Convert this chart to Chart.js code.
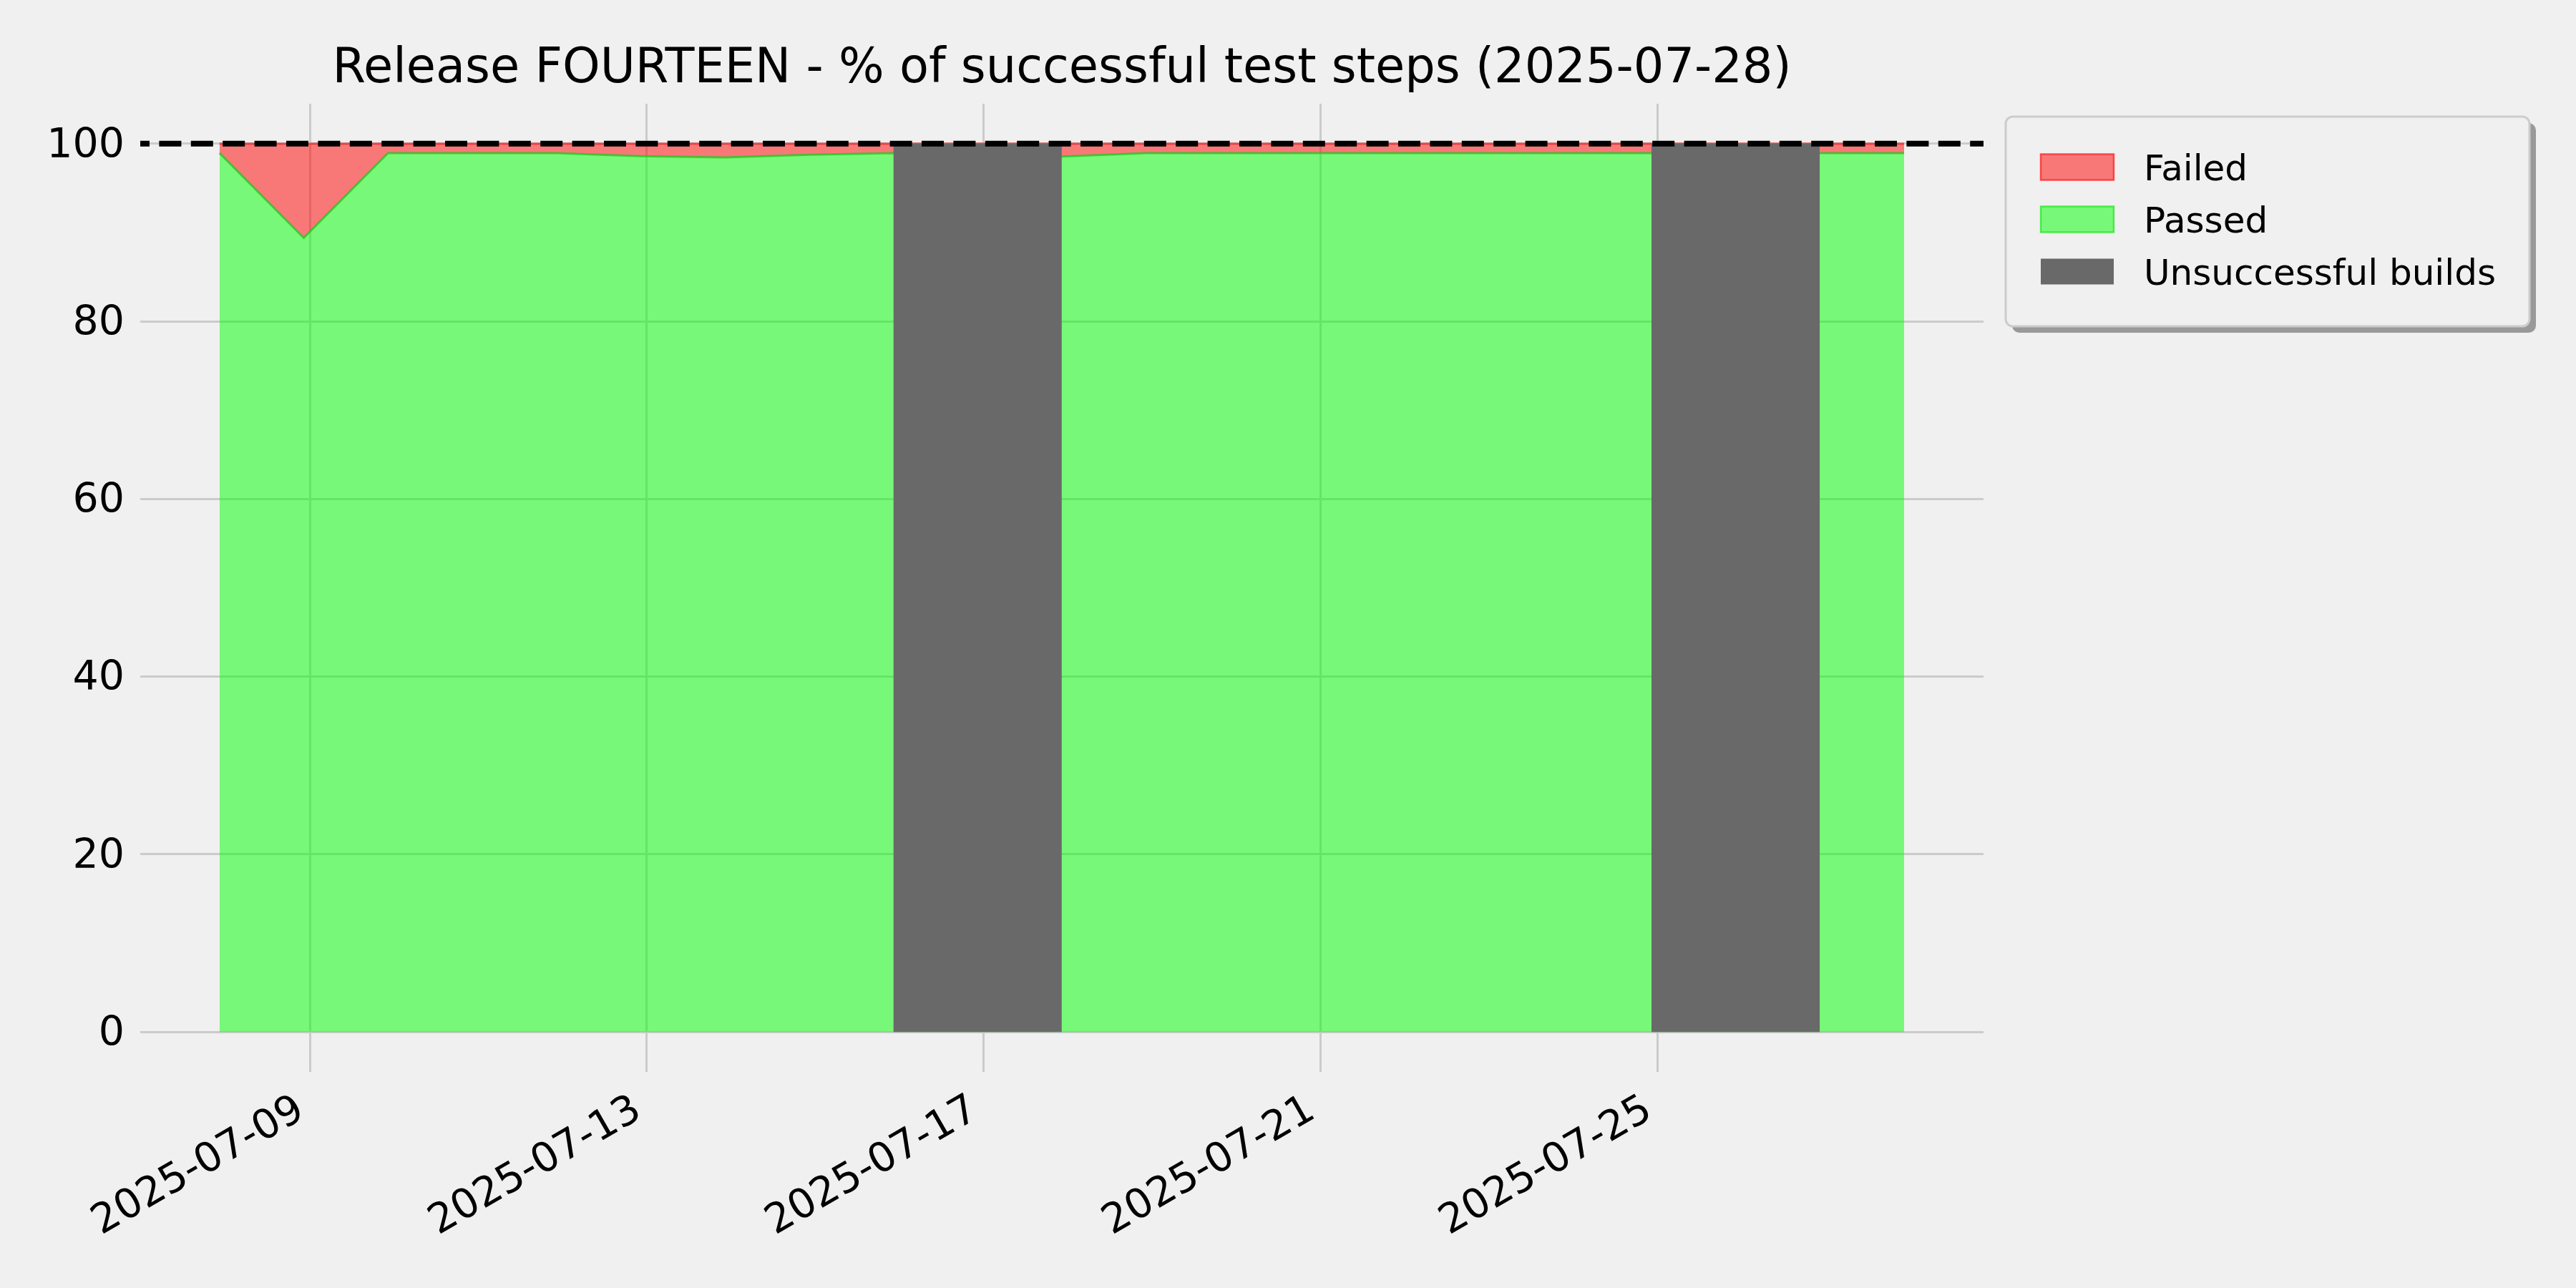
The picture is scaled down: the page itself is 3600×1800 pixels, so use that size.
<!DOCTYPE html>
<html>
<head>
<meta charset="utf-8">
<script src="https://cdn.jsdelivr.net/npm/chart.js@4.4.4/dist/chart.umd.min.js"></script>
<style>
  html, body { margin: 0; padding: 0; background: #f0f0f0; }
  #wrap { width: 3600px; height: 1800px; position: relative; }
</style>
</head>
<body>
<div id="wrap"><canvas id="chart"></canvas></div>
<script>
// --- data ---
const buildDates = [
  '2025-07-07 22:15', '2025-07-08 22:15', '2025-07-09 22:15', '2025-07-10 22:15',
  '2025-07-11 22:15', '2025-07-12 22:15', '2025-07-13 22:15', '2025-07-14 22:15',
  '2025-07-15 22:15', '2025-07-17 22:15', '2025-07-18 22:15', '2025-07-19 22:15',
  '2025-07-20 22:15', '2025-07-21 22:15', '2025-07-22 22:15', '2025-07-23 22:15',
  '2025-07-24 22:15', '2025-07-26 22:15', '2025-07-27 22:15'
];
const passedPct = [
  98.95, 89.4, 98.95, 98.95, 98.95, 98.6, 98.45, 98.75, 98.95, 98.55,
  98.95, 98.95, 98.95, 98.95, 98.95, 98.95, 98.95, 98.95, 98.95
];
const failedPct = [
  1.05, 10.6, 1.05, 1.05, 1.05, 1.4, 1.55, 1.25, 1.05, 1.45,
  1.05, 1.05, 1.05, 1.05, 1.05, 1.05, 1.05, 1.05, 1.05
];
// spans where the build itself failed
const brokenFrom = ['2025-07-15 22:15', '2025-07-24 22:15'];
const brokenTo   = ['2025-07-17 22:15', '2025-07-26 22:15'];

const xTickLabels = ['2025-07-09', '2025-07-13', '2025-07-17', '2025-07-21', '2025-07-25'];
const yTickValues = [0, 20, 40, 60, 80, 100];
const targetPct = 100;
const titleText = 'Release FOURTEEN - % of successful test steps (2025-07-28)';

// dates -> fractional days, so a plain linear axis can be used (no date adapter offline)
function toDay(s) {
  const p = s.split(/[- :]/).map(Number);
  return Date.UTC(p[0], p[1] - 1, p[2], p[3] || 0, p[4] || 0) / 86400000;
}
function fmtDay(v) {
  const d = new Date(Math.round(v * 86400000));
  return d.toISOString().substring(0, 10);
}

const passedPts = buildDates.map((d, i) => ({ x: toDay(d), y: passedPct[i] }));
const failedPts = buildDates.map((d, i) => ({ x: toDay(d), y: failedPct[i] }));
const brokenPts = [];
brokenFrom.forEach((d, i) => {
  if (i > 0) brokenPts.push({ x: (toDay(brokenTo[i - 1]) + toDay(d)) / 2, y: null });
  brokenPts.push({ x: toDay(d), y: targetPct });
  brokenPts.push({ x: toDay(brokenTo[i]), y: targetPct });
});

const FONT = 'DejaVu Sans';

// canvas background
const bgPlugin = {
  id: 'bg',
  beforeDraw(chart) {
    const c = chart.ctx;
    c.save();
    c.fillStyle = '#f0f0f0';
    c.fillRect(0, 0, chart.width, chart.height);
    c.restore();
  }
};

// dashed target line at 100%
const targetLine = {
  id: 'targetLine',
  afterDatasetsDraw(chart) {
    const c = chart.ctx, a = chart.chartArea;
    const y = chart.scales.y.getPixelForValue(targetPct);
    c.save();
    c.strokeStyle = '#000';
    c.lineWidth = 8;
    c.setLineDash([31, 13.4]);
    c.lineDashOffset = 18;
    c.beginPath();
    c.moveTo(a.left, y);
    c.lineTo(a.right, y);
    c.stroke();
    c.restore();
  }
};

// matplotlib-ish legend box outside the axes
const boxLegend = {
  id: 'boxLegend',
  afterDraw(chart) {
    const c = chart.ctx;
    const order = [1, 0, 2];
    const bx = 2803, by = 163, bw = 732, bh = 293, r = 10;
    function rr(x, y) {
      c.beginPath();
      c.roundRect(x, y, bw, bh, r);
    }
    c.save();
    c.fillStyle = '#999999';
    rr(bx + 9, by + 9); c.fill();
    c.fillStyle = '#f0f0f0';
    rr(bx, by); c.fill();
    c.strokeStyle = '#cccccc';
    c.lineWidth = 3;
    rr(bx, by); c.stroke();

    c.font = '50px "' + FONT + '"';
    c.textBaseline = 'alphabetic';
    c.textAlign = 'left';
    order.forEach((di, k) => {
      const ds = chart.data.datasets[di];
      const cy = 233.5 + k * 73;
      c.fillStyle = ds.backgroundColor;
      c.fillRect(2852, cy - 18, 102, 36);
      if (ds.legendEdge) {
        c.strokeStyle = ds.legendEdge;
        c.lineWidth = 2.5;
        c.strokeRect(2852, cy - 18, 102, 36);
      }
      c.fillStyle = '#000';
      c.fillText(ds.label, 2996, cy + 18);
    });
    c.restore();
  }
};

new Chart(document.getElementById('chart'), {
  type: 'line',
  data: {
    datasets: [
      {
        label: 'Passed',
        data: passedPts,
        stack: 'tests',
        order: 1,
        fill: 'origin',
        backgroundColor: 'rgba(0,255,0,0.5)',
        borderColor: 'rgba(30,200,30,0.75)',
        legendEdge: 'rgba(0,230,0,0.6)',
        borderWidth: 3,
        pointRadius: 0,
        tension: 0
      },
      {
        label: 'Failed',
        data: failedPts,
        stack: 'tests',
        order: 2,
        fill: '-1',
        backgroundColor: 'rgba(255,0,0,0.5)',
        borderColor: 'rgba(235,40,40,0.7)',
        legendEdge: 'rgba(255,40,40,0.8)',
        borderWidth: 3,
        pointRadius: 0,
        tension: 0
      },
      {
        label: 'Unsuccessful builds',
        data: brokenPts,
        stack: 'builds',
        order: 0,
        fill: 'origin',
        spanGaps: false,
        backgroundColor: '#696969',
        borderColor: '#696969',
        borderWidth: 0,
        pointRadius: 0,
        tension: 0
      }
    ]
  },
  options: {
    responsive: true,
    maintainAspectRatio: false,
    devicePixelRatio: 1,
    animation: false,
    layout: { padding: { left: 0, right: 828, top: 0, bottom: 0 } },
    plugins: {
      legend: { display: false },
      tooltip: { enabled: false },
      title: {
        display: true,
        text: titleText,
        fullSize: false,
        color: '#000',
        font: { family: FONT, size: 67, weight: 'normal' },
        padding: { top: 57, bottom: 7.6 }
      }
    },
    scales: {
      x: {
        type: 'linear',
        min: toDay('2025-07-06 23:40'),
        max: toDay('2025-07-28 20:53'),
        afterBuildTicks(scale) {
          scale.ticks = xTickLabels.map(d => ({ value: toDay(d) }));
        },
        afterFit(scale) { scale.height = 302; },
        grid: { color: '#cbcbcb', lineWidth: 3, drawTicks: false },
        border: { display: false },
        ticks: {
          autoSkip: false,
          minRotation: 30,
          maxRotation: 30,
          padding: 20,
          labelOffset: -12,
          color: '#000',
          font: { family: FONT, size: 57 },
          callback: v => fmtDay(v)
        }
      },
      y: {
        stacked: true,
        min: -4.5,
        max: 104.5,
        afterBuildTicks(scale) {
          scale.ticks = yTickValues.map(v => ({ value: v }));
        },
        afterFit(scale) { scale.width = 196; },
        grid: { color: '#cbcbcb', lineWidth: 3, drawTicks: false },
        border: { display: false },
        ticks: {
          padding: 22,
          labelOffset: 4,
          color: '#000',
          font: { family: FONT, size: 57 }
        }
      }
    }
  },
  plugins: [bgPlugin, targetLine, boxLegend]
});
</script>
</body>
</html>
